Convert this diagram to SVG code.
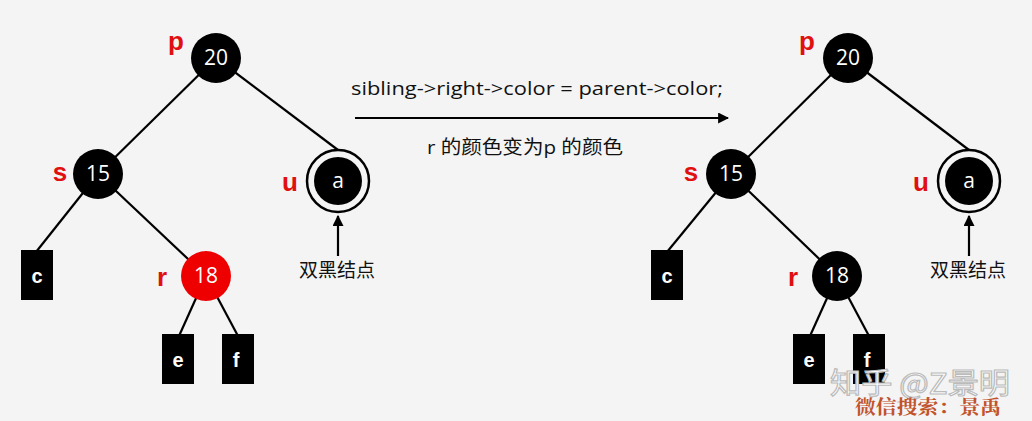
<svg xmlns="http://www.w3.org/2000/svg" width="1032" height="421" viewBox="0 0 1032 421">
<defs>
<style>
.edge{stroke:#000;stroke-width:2.2;fill:none}
.bn{fill:#000}
.rn{fill:#ee0000}
.num{font-family:"Open Sans","Liberation Sans",sans-serif;font-size:21px;fill:#fff;text-anchor:middle}
.leaf{font-family:"Liberation Sans",sans-serif;font-weight:bold;font-size:20px;fill:#fff;text-anchor:middle}
.lbl{font-family:"Liberation Sans",sans-serif;font-weight:bold;font-size:26px;fill:#e01010;text-anchor:middle}
.cap{font-family:"Open Sans","Liberation Sans","Noto Sans CJK SC",sans-serif;font-size:19px;fill:#111;text-anchor:middle}
.cn{font-family:"Noto Sans CJK SC",sans-serif;font-size:19px;fill:#111;text-anchor:middle}
</style>
<marker id="ah" viewBox="0 0 10 10" refX="9" refY="5" markerWidth="5" markerHeight="5" orient="auto"><path d="M0,0 L10,5 L0,10 z" fill="#000"/></marker>
</defs>
<rect width="1032" height="421" fill="#f4f4f4"/>
<g id="connectors">
<line class="edge" x1="216" y1="58" x2="98" y2="174"/>
<line class="edge" x1="216" y1="58" x2="338" y2="150"/>
<line class="edge" x1="98" y1="174" x2="36" y2="252"/>
<line class="edge" x1="98" y1="174" x2="206" y2="276"/>
<line class="edge" x1="206" y1="276" x2="179" y2="336"/>
<line class="edge" x1="206" y1="276" x2="238" y2="336"/>
<line class="edge" x1="338" y1="256" x2="338" y2="216" stroke-width="3" marker-end="url(#ah)"/>
<line class="edge" x1="355" y1="118" x2="728" y2="118" stroke-width="3" marker-end="url(#ah)"/>
<line class="edge" x1="848" y1="58" x2="731" y2="174"/>
<line class="edge" x1="848" y1="58" x2="969" y2="150"/>
<line class="edge" x1="731" y1="174" x2="667" y2="252"/>
<line class="edge" x1="731" y1="174" x2="837" y2="276"/>
<line class="edge" x1="837" y1="276" x2="810" y2="336"/>
<line class="edge" x1="837" y1="276" x2="869" y2="336"/>
<line class="edge" x1="969" y1="256" x2="969" y2="216" stroke-width="3" marker-end="url(#ah)"/>
</g>
<g id="L-p"><circle class="bn" cx="216" cy="58" r="25"/><text class="num" x="216" y="65">20</text><text class="lbl" x="176" y="50">p</text></g>
<g id="L-s"><circle class="bn" cx="98" cy="174" r="25"/><text class="num" x="98" y="181">15</text><text class="lbl" x="60" y="181">s</text></g>
<g id="L-u"><circle cx="338" cy="181" r="31" fill="#f4f4f4" stroke="#000" stroke-width="2.5"/><circle class="bn" cx="338" cy="181" r="24"/><text class="num" x="338" y="188" font-size="18">a</text><text class="lbl" x="290" y="191">u</text></g>
<g id="L-c"><rect class="bn" x="21" y="250" width="32" height="50"/><text class="leaf" x="37" y="283">c</text></g>
<g id="L-r"><circle class="rn" cx="206" cy="276" r="25"/><text class="num" x="206" y="283">18</text><text class="lbl" x="162" y="286">r</text></g>
<g id="L-e"><rect class="bn" x="162" y="334" width="32" height="50"/><text class="leaf" x="178" y="367">e</text></g>
<g id="L-f"><rect class="bn" x="222" y="334" width="32" height="50"/><text class="leaf" x="236" y="367">f</text></g>
<g id="L-dbl"><text class="cn" x="337" y="277">双黑结点</text></g>
<g id="caption"><text class="cap" x="537" y="95" textLength="372" lengthAdjust="spacingAndGlyphs">sibling-&gt;right-&gt;color = parent-&gt;color;</text><text class="cap" x="525" y="154" font-size="20" textLength="196" lengthAdjust="spacingAndGlyphs">r 的颜色变为p 的颜色</text></g>
<g id="R-p"><circle class="bn" cx="848" cy="58" r="25"/><text class="num" x="848" y="65">20</text><text class="lbl" x="807" y="50">p</text></g>
<g id="R-s"><circle class="bn" cx="731" cy="174" r="25"/><text class="num" x="731" y="181">15</text><text class="lbl" x="691" y="181">s</text></g>
<g id="R-u"><circle cx="969" cy="181" r="31" fill="#f4f4f4" stroke="#000" stroke-width="2.5"/><circle class="bn" cx="969" cy="181" r="24"/><text class="num" x="969" y="188" font-size="18">a</text><text class="lbl" x="921" y="191">u</text></g>
<g id="R-c"><rect class="bn" x="651" y="250" width="32" height="50"/><text class="leaf" x="667" y="283">c</text></g>
<g id="R-r"><circle class="bn" cx="837" cy="276" r="25"/><text class="num" x="837" y="283">18</text><text class="lbl" x="793" y="286">r</text></g>
<g id="R-e"><rect class="bn" x="793" y="334" width="32" height="50"/><text class="leaf" x="809" y="367">e</text></g>
<g id="R-f"><rect class="bn" x="853" y="334" width="32" height="50"/><text class="leaf" x="867" y="367">f</text></g>
<g id="R-dbl"><text class="cn" x="968" y="277">双黑结点</text></g>
<g id="watermark">
<text x="830" y="394" font-family="Noto Sans CJK SC,sans-serif" font-size="29" fill="#ffffff" stroke="#bbbbbb" stroke-width="1.2" textLength="180" lengthAdjust="spacingAndGlyphs">知乎 @Z景明</text>
<text x="855" y="414" font-family="Noto Serif CJK SC,Noto Sans CJK SC,serif" font-weight="bold" font-size="19" fill="#c0532c" textLength="146" lengthAdjust="spacingAndGlyphs">微信搜索：景禹</text>
</g>
</svg>
